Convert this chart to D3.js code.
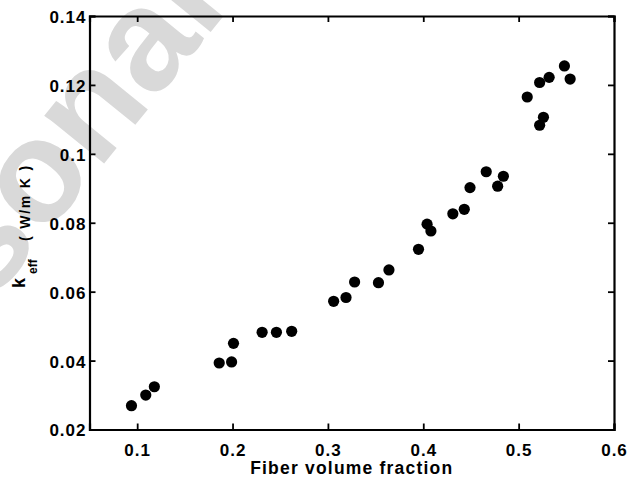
<!DOCTYPE html>
<html>
<head>
<meta charset="utf-8">
<script src="https://cdn.jsdelivr.net/npm/d3@7"></script>
<style>
  body { margin: 0; background: #fff; }
  svg text { font-family: Arial, "Liberation Sans", sans-serif; font-weight: bold; }
</style>
</head>
<body>
<svg id="chart" width="644" height="480"></svg>
<script>
// fiber volume fraction vs effective conductivity (W/m K)
const fiberFraction = [0.094, 0.109, 0.118, 0.186, 0.199, 0.201, 0.231, 0.246, 0.262,
  0.306, 0.319, 0.328, 0.353, 0.364, 0.395, 0.404, 0.408, 0.431, 0.443, 0.449,
  0.466, 0.478, 0.484, 0.509, 0.522, 0.526, 0.522, 0.532, 0.548, 0.554];
const kEff = [0.0269, 0.0300, 0.0324, 0.0393, 0.0396, 0.0450, 0.0482, 0.0482, 0.0485,
  0.0572, 0.0583, 0.0628, 0.0626, 0.0663, 0.0723, 0.0796, 0.0776, 0.0826, 0.0839, 0.0902,
  0.0948, 0.0906, 0.0935, 0.1165, 0.1083, 0.1106, 0.1207, 0.1222, 0.1255, 0.1217];
const xTicks = [0.1, 0.2, 0.3, 0.4, 0.5, 0.6];
const yTicks = [0.02, 0.04, 0.06, 0.08, 0.1, 0.12, 0.14];
const xLabel = "Fiber volume fraction";
const watermarkText = "Personal use only";

const svg = d3.select("#chart");
const margin = { top: 16, right: 30, bottom: 50.5, left: 89.5 };
const width = +svg.attr("width");
const height = +svg.attr("height");
const innerWidth = width - margin.left - margin.right;
const innerHeight = height - margin.top - margin.bottom;

// watermark sits under everything
const wm = svg.append("text")
  .attr("transform", "translate(42,240) rotate(-51)")
  .attr("fill", "#d9d9d9")
  .style("font-size", "145px")
  .text(watermarkText);
// shift so the "o" of "Personal" lands where it is in the picture
const pers = wm.node().getSubStringLength(0, 4);
wm.attr("x", -pers);

const g = svg.append("g")
  .attr("transform", `translate(${margin.left},${margin.top})`);

const x = d3.scaleLinear().domain([0.05, 0.6]).range([0, innerWidth]);
const y = d3.scaleLinear().domain([0.02, 0.14]).range([innerHeight, 0]);

const fmt = d => d3.format("")(+d.toFixed(2));

// bottom + left axes with inward ticks
const xAxis = g.append("g")
  .attr("transform", `translate(0,${innerHeight})`)
  .call(d3.axisBottom(x).tickValues(xTicks).tickSize(-6).tickPadding(14).tickFormat(fmt));
const yAxis = g.append("g")
  .call(d3.axisLeft(y).tickValues(yTicks).tickSize(-6).tickPadding(3).tickFormat(fmt));
// mirrored ticks on top and right
const xTop = g.append("g")
  .call(d3.axisTop(x).tickValues(xTicks).tickSize(-6).tickFormat(""));
const yRight = g.append("g")
  .attr("transform", `translate(${innerWidth},0)`)
  .call(d3.axisRight(y).tickValues(yTicks).tickSize(-6).tickFormat(""));

[xAxis, yAxis, xTop, yRight].forEach(a => {
  a.select(".domain").attr("stroke", "#000").attr("stroke-width", 2.2);
  a.selectAll(".tick line").attr("stroke", "#000").attr("stroke-width", 1.8);
  a.selectAll("text")
    .attr("fill", "#000")
    .style("font-size", "17px")
    .style("letter-spacing", "1px");
});
yAxis.selectAll("text").attr("dy", "0.38em");
xAxis.selectAll("text").attr("dy", "0.71em");

g.selectAll(".dot")
  .data(fiberFraction.map((f, i) => ({ f: f, k: kEff[i] })))
  .enter()
  .append("circle")
  .attr("class", "dot")
  .attr("cx", d => x(d.f))
  .attr("cy", d => y(d.k))
  .attr("r", 5.6)
  .attr("fill", "#000");

svg.append("text")
  .attr("x", margin.left + innerWidth / 2)
  .attr("y", 473.5)
  .attr("text-anchor", "middle")
  .style("font-size", "17.5px")
  .style("letter-spacing", "1.2px")
  .text(xLabel);

// y label: k_eff ( W/m K ), rotated
const yl = svg.append("text")
  .attr("transform", "rotate(-90)");
yl.append("tspan").attr("x", -288).attr("y", 25).style("font-size", "18px").text("k");
yl.append("tspan").attr("x", -274).attr("y", 36.5).style("font-size", "12px").text("eff");
yl.append("tspan").attr("x", -241).attr("y", 29.5).style("font-size", "14px")
  .style("letter-spacing", "1.8px").text("( W/m K )");
</script>
</body>
</html>
